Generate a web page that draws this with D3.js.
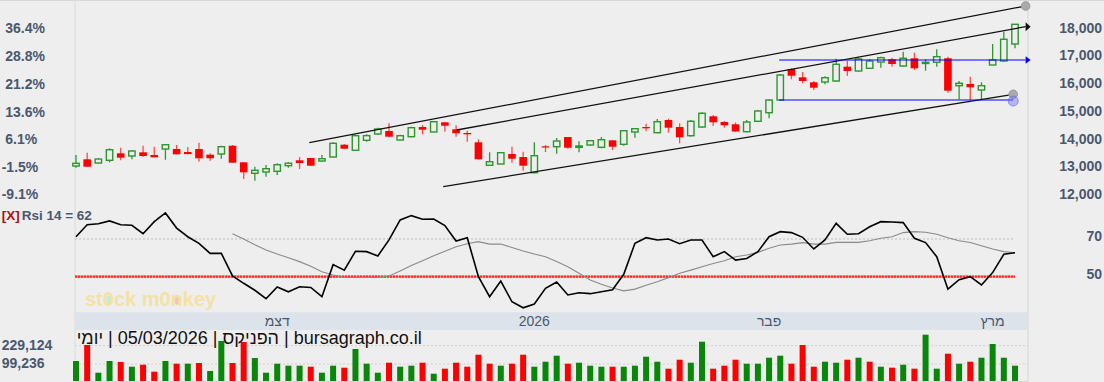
<!DOCTYPE html>
<html><head><meta charset="utf-8">
<script src="https://cdnjs.cloudflare.com/ajax/libs/d3/7.8.5/d3.min.js"></script>
<style>
html,body{margin:0;padding:0;background:#eeeeee;}
svg{display:block;font-family:"Liberation Sans",Arial,sans-serif;}
</style></head><body>
<svg id="c" width="1104" height="382"></svg>
<script>
// ---------- DATA ----------
const opens=[13010,13252,13118,13216,13468,13371,13504,13407,13623,13623,13515,13623,13418,13443,13742,13143,12746,12793,12819,13021,13216,13299,13191,13335,13778,13577,13937,14165,14273,13948,14067,14417,14237,14587,14334,14201,13865,13035,13082,13443,13335,12768,13721,13706,14056,13685,13768,13685,13937,13793,14237,14417,14212,14670,14417,14103,14417,14803,14598,14515,14248,14623,14933,15391,16510,16210,16030,16041,16077,16593,16438,16535,16762,16860,16618,16896,16715,16752,16896,15907,15969,15752,16654,16798,17412];
const highs=[13407,13490,13288,13648,13670,13587,13742,13706,13804,13768,13695,13851,13468,13742,13768,13143,12985,13046,13107,13143,13335,13299,13407,13865,13804,14139,14154,14392,14551,14139,14428,14489,14634,14587,14479,14284,13973,13505,13505,13706,13526,13865,13768,14020,14056,13901,13948,14056,13937,14309,14381,14536,14706,14717,14551,14670,14948,14850,14634,14580,14670,15031,15417,16329,16535,16402,16077,16247,16882,16798,16932,16860,16954,16918,17134,17098,16860,17221,16954,16077,16232,16030,17412,17856,18123];
const lows=[12949,12985,13107,13143,13216,13252,13346,13324,13237,13432,13432,13165,13201,13273,13129,12541,12479,12624,12685,12949,12902,13021,13165,13324,13634,13551,13887,14129,14067,13937,14046,14154,14226,14248,14067,13887,13252,13010,13071,13129,12840,12746,13515,13454,13634,13505,13742,13648,13587,13742,14031,14262,14190,14212,13829,14067,14392,14453,14392,14248,14226,14598,14731,15391,16138,15994,15752,15958,16052,16257,16413,16510,16557,16593,16593,16474,16449,16593,15655,15417,15391,15417,16654,16773,17257];
const closes=[13107,12985,13262,13598,13310,13551,13371,13324,13778,13432,13440,13288,13290,13706,13129,12782,12855,12912,13057,13110,13115,13021,13273,13829,13634,14103,14105,14345,14067,14103,14392,14320,14609,14464,14190,14154,13252,13165,13490,13273,13021,13382,13685,13912,13670,13732,13923,13959,13706,14284,14356,14370,14609,14392,14046,14623,14912,14587,14479,14255,14598,14995,15391,16293,16268,16077,15835,16196,16680,16438,16871,16798,16918,16690,16896,16535,16752,16954,15727,15994,15850,15907,16835,17582,18123];
const volumes=[120600,234100,37600,120600,113500,80200,94300,44700,120600,101400,101400,106400,49700,262500,106400,255400,141900,37600,101400,87300,87300,80200,37600,87300,73100,205700,101400,37600,108500,80200,87300,108500,30500,66000,108500,80200,165300,101400,87300,101400,165300,80200,115600,158200,101400,108500,87300,80200,80200,80200,87300,151100,115600,66000,129800,108500,257500,66000,87300,129800,101400,101400,144000,158200,101400,234100,80200,115600,108500,129800,144000,115600,80200,73100,94300,66000,307200,66000,172400,101400,115600,144000,241200,144000,87300];
const rsi=[71.2,77.6,78.1,79.6,77.6,77.3,72.8,79.2,83.8,75.8,71.2,67.7,62.4,62.4,50.4,46.5,42.8,38.3,44.5,42.0,44.7,44.3,39.4,56.4,53.5,63.5,63.3,61.0,69.5,80.1,82.4,80.5,80.6,77.1,68.9,70.7,50.0,39.4,47.7,36.7,33.5,35.5,43.8,47.2,40.3,41.5,41.0,42.0,43.1,51.3,67.7,70.7,69.5,70.0,67.5,69.5,69.5,60.6,63.3,58.8,59.7,63.3,71.2,73.9,73.4,70.9,64.7,69.5,78.3,72.5,72.8,76.5,79.2,79.0,78.7,70.4,68.1,60.6,43.4,48.4,50.0,45.6,52.2,61.9,62.7];
const rsiSignal=[null,null,null,null,null,null,null,null,null,null,null,null,null,null,72.8,70.0,67.0,64.2,62.0,60.0,58.0,55.5,52.6,50.9,49.6,49.6,49.6,49.6,50.4,53.0,56.0,58.5,61.1,63.5,65.9,67.5,68.6,67.3,67.3,65.5,63.6,62.0,60.6,58.0,55.3,51.8,48.2,46.0,44.0,42.5,43.4,45.5,47.3,49.5,51.8,53.5,55.3,57.0,58.5,60.6,61.5,62.9,65.1,66.8,67.3,68.1,67.3,67.3,68.2,68.2,68.2,69.1,70.4,71.2,73.4,73.9,73.6,72.5,70.7,69.1,68.1,66.4,64.7,63.3,62.7];
const priceTicks=[12000,13000,14000,15000,16000,17000,18000];
const pctTicks=[-9.1,-1.5,6.1,13.6,21.2,28.8,36.4];
const rsiTicks=[50,70];
const volTicks=[99236,229124];
const monthIdx=[18,41,62,82];
const monthLabels=["דצמ","2026","פבר","מרץ"];
const trendLines=[{i1:20.87,p1:13850,i2:84.95,p2:18783},{i1:34.05,p1:14309,i2:84.95,p2:18036},{i1:32.85,p1:12263,i2:83.84,p2:15597}];
const hLines=[{i1:62.9,i2:84.95,p:16834},{i1:62.9,i2:83.84,p:15391}];
const rsiLabel="Rsi 14 = 62";
const titleText="bursagraph.co.il | הפניקס | 05/03/2026 | יומי";

// ---------- LAYOUT ----------
const svg=d3.select("#c");
const plotL=75, plotR=1028;
const x=d3.scaleLinear().domain([0,84]).range([76,1015]);
const yP=d3.scaleLinear().domain([12000,18000]).range([194,27.7]);
const yPct=d3.scaleLinear().domain([-9.1,36.4]).range([194,27.7]);
const yR=d3.scaleLinear().domain([50,70]).range([276.7,239]);
const yV=d3.scaleLinear().domain([0,229124]).range([378,345.7]);
const txt="#4a586e", GREEN="#2f962f", RED="#ff0000", VGREEN="#0a870a";

svg.append("rect").attr("width",1104).attr("height",382).attr("fill","#eeeeee");
// frame
svg.append("line").attr("x1",0).attr("x2",1104).attr("y1",0.5).attr("y2",0.5).attr("stroke","#d8d8d8");
svg.append("line").attr("x1",plotL).attr("x2",plotL).attr("y1",0).attr("y2",382).attr("stroke","#dcdcdc");
svg.append("line").attr("x1",plotR).attr("x2",plotR).attr("y1",0).attr("y2",382).attr("stroke","#d6d6d6");
svg.append("line").attr("x1",plotL).attr("x2",plotR).attr("y1",381.5).attr("y2",381.5).attr("stroke","#d6d6d6");

// watermark
const wm=svg.append("g");
const wmt=wm.append("text").attr("x",85).attr("y",306).attr("font-size",20).attr("font-weight","bold")
  .attr("fill","#f3e2a6").text("st0ck m0nkey");
[[2,"#bdf0d2"],[8,"#f5c4b4"]].forEach(([ci,col])=>{
  const e=wmt.node().getExtentOfChar(ci);
  wm.insert("ellipse","text").attr("cx",e.x+e.width/2).attr("cy",e.y+e.height*0.55)
    .attr("rx",e.width*0.18).attr("ry",e.height*0.22).attr("fill",col);
});

// date band
svg.append("rect").attr("x",plotL).attr("y",312.3).attr("width",plotR-plotL).attr("height",17.7).attr("fill","#dde3eb");
svg.selectAll(".mon").data(monthIdx).join("text").attr("class","mon")
  .attr("x",d=>x(d)).attr("y",325.5).attr("text-anchor","middle").attr("font-size",14).attr("fill",txt)
  .text((d,k)=>monthLabels[k]);

// volume grid + bars
svg.selectAll(".vg").data(volTicks).join("line").attr("x1",plotL).attr("x2",plotR)
  .attr("y1",d=>yV(d)).attr("y2",d=>yV(d)).attr("stroke","#cfcfcf").attr("stroke-dasharray","2,2");
const idx=d3.range(opens.length);
svg.selectAll(".vb").data(idx).join("rect").attr("class","vb")
  .attr("x",i=>x(i)-3).attr("width",6).attr("y",i=>yV(volumes[i])).attr("height",i=>381-yV(volumes[i]))
  .attr("fill",i=>(i===0||closes[i]>=closes[i-1])?VGREEN:RED);

// title
svg.append("text").attr("x",76.7).attr("y",343.5).attr("direction","rtl").attr("text-anchor","end")
  .attr("font-size",18).attr("fill","#111").text(titleText);

// RSI panel
svg.append("line").attr("x1",plotL).attr("x2",x(84)).attr("y1",yR(70)).attr("y2",yR(70))
  .attr("stroke","#bdbdbd").attr("stroke-dasharray","2,2");
svg.append("line").attr("x1",plotL).attr("x2",x(84)).attr("y1",yR(50)).attr("y2",yR(50))
  .attr("stroke","#ff8a8a").attr("stroke-width",2.2);
svg.append("line").attr("x1",plotL).attr("x2",x(84)).attr("y1",yR(50)).attr("y2",yR(50))
  .attr("stroke","#ff2a2a").attr("stroke-width",2.2).attr("stroke-dasharray","2,1");
svg.append("path").datum(idx.filter(i=>rsiSignal[i]!=null))
  .attr("d",d3.line().x(i=>x(i)).y(i=>yR(rsiSignal[i]))).attr("fill","none").attr("stroke","#8a8a8a").attr("stroke-width",1.1);
svg.append("path").datum(idx)
  .attr("d",d3.line().x(i=>x(i)).y(i=>yR(rsi[i]))).attr("fill","none").attr("stroke","#000").attr("stroke-width",1.6);

// RSI label
const rl=svg.append("text").attr("x",1.7).attr("y",220).attr("font-size",13.5).attr("font-weight","bold");
rl.append("tspan").attr("fill","#b01010").text("[X]");
rl.append("tspan").attr("fill",txt).attr("dx",2).text(rsiLabel);

// candles
const cg=svg.append("g");
idx.forEach(i=>{
  const up=closes[i]>=opens[i];
  const col=up?GREEN:RED;
  cg.append("line").attr("x1",x(i)).attr("x2",x(i)).attr("y1",yP(highs[i])).attr("y2",yP(lows[i]))
    .attr("stroke",up?GREEN:"#ff4a4a").attr("stroke-width",1.3);
  const top=yP(Math.max(opens[i],closes[i])), bot=yP(Math.min(opens[i],closes[i]));
  const h=Math.max(bot-top,1.2);
  if(up){
    cg.append("rect").attr("x",x(i)-3.2).attr("width",6.4).attr("y",top).attr("height",h)
      .attr("fill","#eeeeee").attr("stroke",col).attr("stroke-width",1.4);
  } else {
    cg.append("rect").attr("x",x(i)-3.8).attr("width",7.6).attr("y",top).attr("height",h).attr("fill",col);
  }
});

// trend lines
trendLines.forEach(t=>{
  svg.append("line").attr("x1",x(t.i1)).attr("y1",yP(t.p1)).attr("x2",x(t.i2)).attr("y2",yP(t.p2))
    .attr("stroke","#111").attr("stroke-width",1.3);
});
hLines.forEach(t=>{
  svg.append("line").attr("x1",x(t.i1)).attr("y1",yP(t.p)).attr("x2",x(t.i2)).attr("y2",yP(t.p))
    .attr("stroke","#0000ff").attr("stroke-width",1.2);
});
function arrow(px,py,col,hh){
  svg.append("path").attr("d",`M${px},${py-hh}L${px+5},${py}L${px},${py+hh}Z`).attr("fill",col);
}
arrow(x(trendLines[1].i2),yP(trendLines[1].p2),"#111",4.5);
arrow(x(hLines[0].i2),yP(hLines[0].p),"#0000ff",3.8);
function circ(cx,cy,r,fill,stroke){
  svg.append("circle").attr("cx",cx).attr("cy",cy).attr("r",r).attr("fill",fill).attr("stroke",stroke).attr("stroke-width",1);
}
circ(x(trendLines[0].i2),yP(trendLines[0].p2),4.3,"#aaaaaa","#999");
circ(x(trendLines[2].i2),yP(trendLines[2].p2),4.3,"#aaaaaa","#999");
circ(x(hLines[1].i2),yP(hLines[1].p)+1,5,"rgba(110,110,245,0.45)","rgba(100,100,255,0.6)");

// axes
const ax=svg.append("g").attr("transform","translate(1102,0)")
  .call(d3.axisLeft(yP).tickValues(priceTicks).tickFormat(d3.format(",")).tickSize(0).tickPadding(0));
const ar=svg.append("g").attr("transform","translate(1102,-3)")
  .call(d3.axisLeft(yR).tickValues(rsiTicks).tickSize(0).tickPadding(0));
const al=svg.append("g").attr("transform","translate(0,0.5)")
  .call(d3.axisRight(yPct).tickValues(pctTicks).tickFormat(d=>d.toFixed(1)+"%").tickSize(0).tickPadding(0));
al.selectAll("text").attr("x",d=>d<0?1.7:5.3);
const av=svg.append("g").attr("transform","translate(1.7,-1)")
  .call(d3.axisRight(yV).tickValues(volTicks).tickFormat(d3.format(",")).tickSize(0).tickPadding(0));
[ax,ar,al,av].forEach(a=>{
  a.select(".domain").remove();
  a.selectAll("text").attr("font-size",14).attr("font-weight","bold").attr("fill",txt)
   .attr("font-family","Liberation Sans, Arial, sans-serif");
});
</script>
</body></html>
